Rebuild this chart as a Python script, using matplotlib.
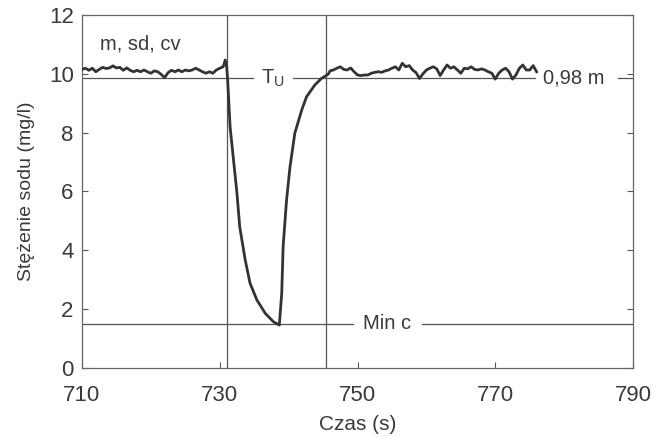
import matplotlib
matplotlib.use("Agg")
import matplotlib.pyplot as plt
import numpy as np

plt.rcParams['font.family'] = ['Liberation Sans', 'DejaVu Sans']

# ---- data ----
t_base1 = [710 + 0.5 * k for k in range(42)]
c_base1 = [10.15, 10.19, 10.12, 10.19, 10.07, 10.15, 10.22, 10.18, 10.20, 10.27,
           10.20, 10.22, 10.12, 10.20, 10.12, 10.07, 10.12, 10.07, 10.13, 10.07,
           10.02, 10.10, 10.07, 9.98, 9.87, 10.04, 10.12, 10.07, 10.13, 10.07,
           10.13, 10.10, 10.13, 10.19, 10.13, 10.07, 10.02, 10.07, 10.02, 10.13,
           10.19, 10.24]
t_dip = [730.8, 731.0, 731.15, 731.5, 732.0, 732.5, 732.9, 733.7, 734.4, 735.4,
         736.6, 737.8, 738.65, 739.0, 739.2, 739.7, 740.2, 740.9, 741.9, 742.6,
         743.8, 744.8, 745.3, 745.8]
c_dip = [10.47, 10.25, 9.79, 8.20, 7.07, 5.94, 4.80, 3.67, 2.88, 2.31,
         1.86, 1.57, 1.46, 2.54, 4.12, 5.71, 6.84, 7.98, 8.77, 9.22,
         9.62, 9.85, 9.92, 10.00]
t_base2 = [746 + 0.5 * k for k in range(61)]
c_base2 = [10.10, 10.13, 10.19, 10.24, 10.15, 10.13, 10.20, 10.07, 9.96, 9.94,
           9.96, 9.96, 10.02, 10.05, 10.07, 10.05, 10.10, 10.13, 10.19, 10.24,
           10.13, 10.36, 10.24, 10.28, 10.13, 10.04, 9.84, 10.00, 10.13, 10.19,
           10.24, 10.17, 9.94, 10.13, 10.30, 10.19, 10.24, 10.13, 10.02, 10.19,
           10.17, 10.24, 10.15, 10.13, 10.17, 10.13, 10.07, 10.02, 9.82, 10.02,
           10.13, 10.19, 10.07, 9.82, 9.96, 10.19, 10.30, 10.13, 10.13, 10.28,
           10.07]
time = t_base1 + t_dip + t_base2
conc = c_base1 + c_dip + c_base2

level_098m = 9.85
level_min = 1.5
t_start = 731.0
t_end = 745.4

x_ticks = [710, 730, 750, 770, 790]
y_ticks = [0, 2, 4, 6, 8, 10, 12]

# ---- figure ----
fig = plt.figure(figsize=(6.66, 4.38), dpi=100)
ax = fig.add_axes([0.1231, 0.1598, 0.9505 - 0.1231, 0.9658 - 0.1598])

txt = '#3a3a3a'
thin = '#555555'

ax.plot(time, conc, color='#333333', lw=2.0, zorder=3, solid_joinstyle='round')

# reference lines
ax.axvline(t_start, color=thin, lw=0.9, zorder=2)
ax.axvline(t_end, color=thin, lw=0.9, zorder=2)
for x0, x1 in [(710, 734.8), (740.6, 775.8), (787.8, 790)]:
    ax.plot([x0, x1], [level_098m, level_098m], color=thin, lw=0.9, zorder=2)
for x0, x1 in [(710, 749.3), (759.4, 790)]:
    ax.plot([x0, x1], [level_min, level_min], color=thin, lw=0.9, zorder=2)

ax.text(712.6, 11.0, 'm, sd, cv', fontsize=14.5, color=txt, va='center', ha='left')
ax.text(737.7, level_098m, r'T$_\mathregular{U}$', fontsize=14.5, color=txt,
        va='center', ha='center')
ax.text(776.9, level_098m, '0,98 m', fontsize=14.5, color=txt, va='center', ha='left')
ax.text(754.3, level_min, 'Min c', fontsize=14.5, color=txt, va='center', ha='center')

ax.set_xlim(710, 790)
ax.set_ylim(0, 12)
ax.set_xticks(x_ticks)
ax.set_yticks(y_ticks)
ax.tick_params(direction='in', length=4, width=0.8, color=thin,
               labelsize=16, labelcolor=txt, right=True)
ax.tick_params(axis='y', pad=6)
ax.tick_params(axis='x', pad=12)
for s in ax.spines.values():
    s.set_color('#666666')
    s.set_linewidth(0.9)

ax.set_xlabel('Czas (s)', fontsize=15, color=txt, labelpad=7)
ax.set_ylabel('Stężenie sodu (mg/l)', fontsize=14, color=txt, labelpad=10)

fig.savefig('out.png', dpi=100, facecolor='white')
